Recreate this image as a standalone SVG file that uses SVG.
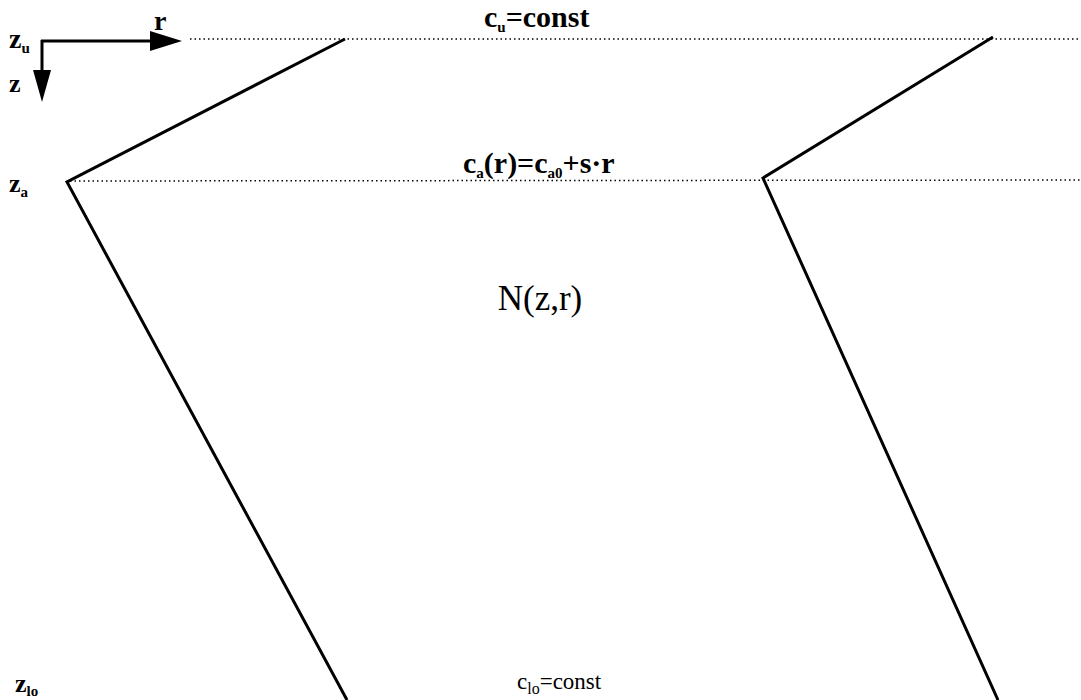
<svg xmlns="http://www.w3.org/2000/svg" width="1081" height="700" viewBox="0 0 1081 700">
<style>
.t{font-family:"Liberation Serif","Times New Roman",serif;fill:#000}
.b{font-weight:bold}
.sub{font-size:15px}
.dot{stroke:#000;stroke-width:1.5;stroke-dasharray:1.5 3;fill:none}
.ln{stroke:#000;stroke-width:3;fill:none;stroke-linejoin:miter}
.ax{stroke:#000;stroke-width:3}
</style>
<rect width="1081" height="700" fill="#fff"/>
<g id="connectors">
<line class="dot" x1="190" y1="39" x2="1081" y2="39"/>
<line class="dot" x1="70" y1="181" x2="1081" y2="180"/>
<polyline class="ln" points="345,39 67,182 347,700"/>
<polyline class="ln" points="993,37 763,178 998,700"/>
</g>
<g id="axes">
<line class="ax" x1="41" y1="41" x2="160" y2="41"/>
<path d="M150,31 L182,41 L150,51 Z" fill="#000"/>
<line class="ax" x1="42" y1="40" x2="42" y2="75"/>
<path d="M33,70 L42,102 L51,70 Z" fill="#000"/>
<text class="t b" x="154" y="30" font-size="28">r</text>
<text class="t b" x="9" y="48" font-size="28">z<tspan class="sub" dy="5">u</tspan></text>
<text class="t b" x="9" y="92" font-size="26">z</text>
<text class="t b" x="9" y="192" font-size="26">z<tspan class="sub" dy="5">a</tspan></text>
<text class="t b" x="15" y="692" font-size="26">z<tspan class="sub" dy="4" font-size="18">lo</tspan></text>
</g>
<g id="labels">
<text class="t b" x="484" y="27" font-size="30">c<tspan class="sub" dy="5">u</tspan><tspan dy="-5">=const</tspan></text>
<text class="t b" x="463" y="173" font-size="30">c<tspan class="sub" dy="5">a</tspan><tspan dy="-5">(r)=c</tspan><tspan class="sub" dy="5">a0</tspan><tspan dy="-5">+s·r</tspan></text>
<text class="t" x="540" y="310" font-size="35" text-anchor="middle">N(z,r)</text>
<text class="t" x="517" y="689" font-size="23">c<tspan font-size="16" dy="5">lo</tspan><tspan dy="-5">=const</tspan></text>
</g>
</svg>
